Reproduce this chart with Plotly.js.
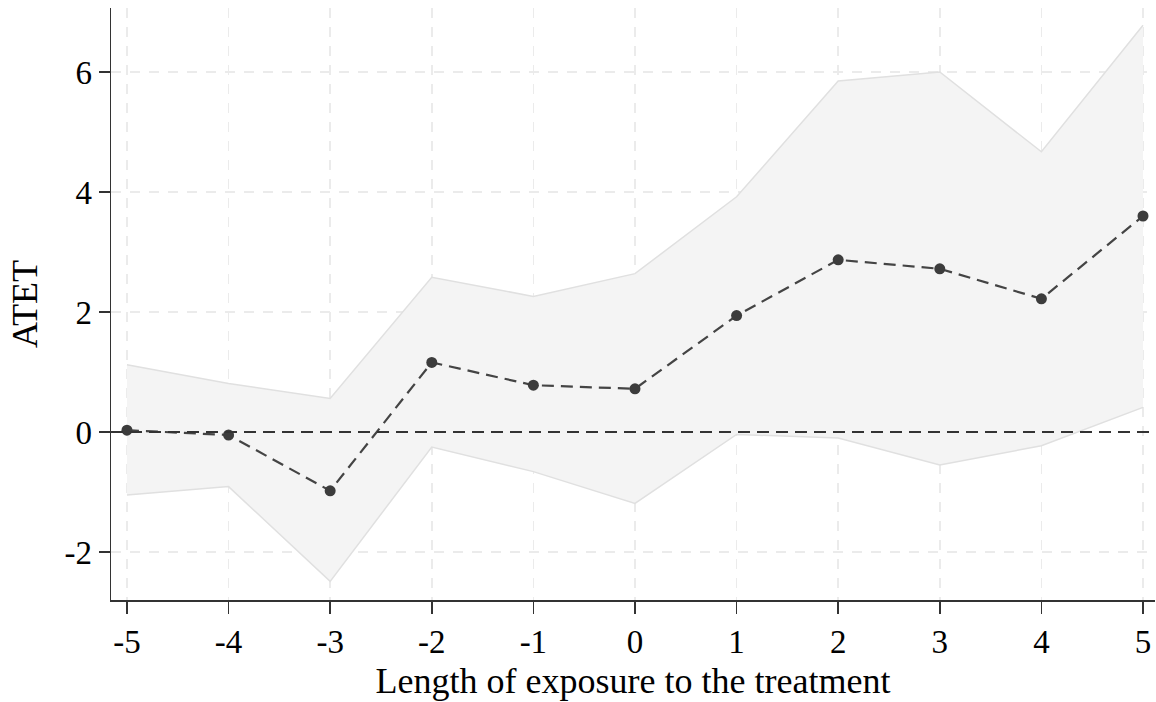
<!DOCTYPE html>
<html>
<head>
<meta charset="utf-8">
<script src="https://cdn.plot.ly/plotly-3.0.1.min.js"></script>
<style>html,body{margin:0;padding:0;background:#fff;}#chart{width:1156px;height:702px;}</style>
</head>
<body>
<div id="chart"></div>
<script>
var periods = [-5, -4, -3, -2, -1, 0, 1, 2, 3, 4, 5];
var atet    = [0.03, -0.05, -0.98, 1.16, 0.78, 0.72, 1.94, 2.87, 2.72, 2.22, 3.60];
var ciUpper = [1.12, 0.81, 0.56, 2.58, 2.26, 2.64, 3.92, 5.85, 6.00, 4.67, 6.78];
var ciLower = [-1.05, -0.91, -2.49, -0.25, -0.66, -1.19, -0.04, -0.10, -0.55, -0.23, 0.41];
var xTickVals = [-5, -4, -3, -2, -1, 0, 1, 2, 3, 4, 5];
var yTickVals = [-2, 0, 2, 4, 6];

var font = '"Liberation Serif", "Times New Roman", Times, serif';

var traces = [
  {x: periods, y: ciLower, mode: 'lines', line: {color: '#e0e0e0', width: 1.5},
   hoverinfo: 'skip', showlegend: false},
  {x: periods, y: ciUpper, mode: 'lines', fill: 'tonexty', fillcolor: '#f4f4f4',
   line: {color: '#e0e0e0', width: 1.5}, hoverinfo: 'skip', showlegend: false},
  {x: periods, y: atet, mode: 'lines+markers',
   line: {color: '#444444', width: 2.2, dash: '12px,7px'},
   marker: {color: '#3c3c3c', size: 11}, showlegend: false}
];

var layout = {
  width: 1156, height: 702,
  margin: {l: 111, r: 1, t: 8, b: 102},
  paper_bgcolor: '#ffffff', plot_bgcolor: '#ffffff',
  font: {family: font, color: '#000000', size: 33},
  xaxis: {
    range: [-5.157, 5.118], tickvals: xTickVals, ticktext: xTickVals.map(String),
    showgrid: true, gridcolor: '#ebebeb', gridwidth: 1.5, griddash: '10px,9px',
    zeroline: false, showline: true, linecolor: '#333333', linewidth: 1.5,
    ticks: 'outside', ticklen: 12, tickwidth: 1.5, tickcolor: '#333333',
    tickfont: {family: font, size: 33, color: '#000'},
    title: {text: 'Length of exposure to the treatment', font: {family: font, size: 36, color: '#000'}, standoff: 8}
  },
  yaxis: {
    range: [-2.8, 7.067], tickvals: yTickVals, ticktext: yTickVals.map(String),
    showgrid: true, gridcolor: '#ebebeb', gridwidth: 1.5, griddash: '10px,9px',
    zeroline: false, showline: true, linecolor: '#333333', linewidth: 1.5,
    ticks: 'outside', ticklen: 11, tickwidth: 1.5, tickcolor: '#333333',
    tickfont: {family: font, size: 33, color: '#000'},
    title: {text: 'ATET', font: {family: font, size: 36, color: '#000'}, standoff: 16}
  },
  shapes: [
    {type: 'line', xref: 'paper', yref: 'y', x0: 0, x1: 1, y0: 0, y1: 0,
     line: {color: '#333333', width: 2, dash: '12px,7px'}, layer: 'above'}
  ]
};

Plotly.newPlot('chart', traces, layout, {displayModeBar: false, staticPlot: true});
</script>
</body>
</html>
